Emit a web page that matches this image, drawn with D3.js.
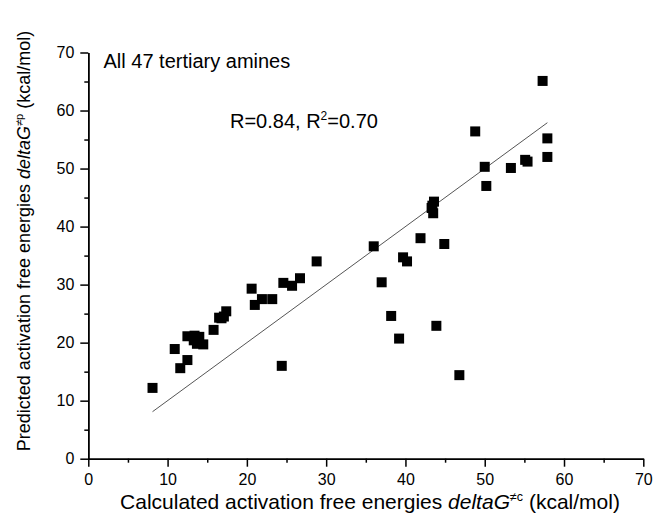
<!DOCTYPE html>
<html><head><meta charset="utf-8">
<script src="https://cdn.jsdelivr.net/npm/d3@7"></script>
<style>
html,body{margin:0;padding:0;background:#fff;}
svg{display:block;font-family:"Liberation Sans",Arial,sans-serif;}
</style></head>
<body><svg id="c" width="654" height="517"></svg>
<script>
const calcX = [8.1,10.9,11.6,12.5,12.5,13.4,14.0,13.7,14.5,13.3,15.8,16.5,17.1,17.4,16.8,20.6,21.0,21.9,23.2,24.4,24.6,25.7,26.7,28.8,36.0,37.0,38.2,39.2,39.7,40.2,41.9,43.3,43.5,43.6,43.4,43.9,44.9,46.8,48.8,50.0,50.2,53.3,55.1,55.4,57.3,57.9,57.9];
const predY = [12.2,18.9,15.6,17.0,21.1,21.2,21.0,19.8,19.7,20.4,22.2,24.3,24.5,25.4,24.2,29.3,26.5,27.5,27.5,16.0,30.3,29.8,31.1,34.0,36.6,30.4,24.6,20.7,34.7,34.0,38.0,43.2,42.3,44.3,43.6,22.9,37.0,14.4,56.4,50.3,47.0,50.1,51.5,51.2,65.1,55.2,52.0];
const fitX = [8.1, 57.9];
const fitY = [8.1, 57.9];
const xTicks = [0,10,20,30,40,50,60,70];
const yTicks = [0,10,20,30,40,50,60,70];
const minorTicks = [5,15,25,35,45,55,65];

const svg = d3.select("#c");
const m = {l:88.3, r:10.7, t:52.5, b:58.3};
const W = 654, H = 517;
const x = d3.scaleLinear().domain([0,70]).range([m.l, W-m.r]);
const y = d3.scaleLinear().domain([0,70]).range([H-m.b, m.t]);

// axes
const xAxis = svg.append("g").attr("transform",`translate(0,${y(0)})`)
  .call(d3.axisBottom(x).tickValues(xTicks).tickSize(8).tickSizeOuter(0).tickPadding(7));
const xMinor = svg.append("g").attr("transform",`translate(0,${y(0)})`)
  .call(d3.axisBottom(x).tickValues(minorTicks).tickSize(4).tickSizeOuter(0).tickFormat(""));
const yAxis = svg.append("g").attr("transform",`translate(${x(0)},0)`)
  .call(d3.axisLeft(y).tickValues(yTicks).tickSize(8).tickSizeOuter(0).tickPadding(6));
const yMinor = svg.append("g").attr("transform",`translate(${x(0)},0)`)
  .call(d3.axisLeft(y).tickValues(minorTicks).tickSize(4).tickSizeOuter(0).tickFormat(""));
[xAxis,xMinor,yAxis,yMinor].forEach(g=>{
  g.selectAll("path.domain").attr("stroke","#000").attr("stroke-width",1.5);
  g.selectAll("line").attr("stroke","#000").attr("stroke-width",1.5);
  g.selectAll("text").attr("font-family","Liberation Sans, Arial, sans-serif").attr("font-size",16).attr("fill","#000");
});

// fit line
svg.append("line")
  .attr("x1",x(fitX[0])).attr("y1",y(fitY[0]))
  .attr("x2",x(fitX[1])).attr("y2",y(fitY[1]))
  .attr("stroke","#555").attr("stroke-width",1);

// points
const s = 10;
svg.append("g").selectAll("rect").data(d3.range(calcX.length)).join("rect")
  .attr("x",i=>x(calcX[i])-s/2).attr("y",i=>y(predY[i])-s/2)
  .attr("width",s).attr("height",s).attr("fill","#000");

// annotations
svg.append("text").attr("x",103.5).attr("y",68).attr("font-size",20).text("All 47 tertiary amines");
const r = svg.append("text").attr("x",230).attr("y",128).attr("font-size",20);
r.append("tspan").text("R=0.84, R");
r.append("tspan").attr("font-size",12).attr("dy",-8).text("2");
r.append("tspan").attr("dy",8).text("=0.70");

// x title
const xt = svg.append("text").attr("x",370).attr("y",509).attr("text-anchor","middle").attr("font-size",21);
xt.append("tspan").text("Calculated activation free energies ");
xt.append("tspan").attr("font-style","italic").text("deltaG");
xt.append("tspan").attr("font-size",12.5).attr("dy",-8.5).text("≠c");
xt.append("tspan").attr("dy",8.5).text(" (kcal/mol)");

// y title
const yt = svg.append("text").attr("transform",`translate(30,241) rotate(-90)`).attr("text-anchor","middle").attr("font-size",18);
yt.append("tspan").text("Predicted activation free energies ");
yt.append("tspan").attr("font-style","italic").text("deltaG");
yt.append("tspan").attr("font-size",11).attr("dy",-7).text("≠p");
yt.append("tspan").attr("dy",7).text(" (kcal/mol)");
</script></body></html>
